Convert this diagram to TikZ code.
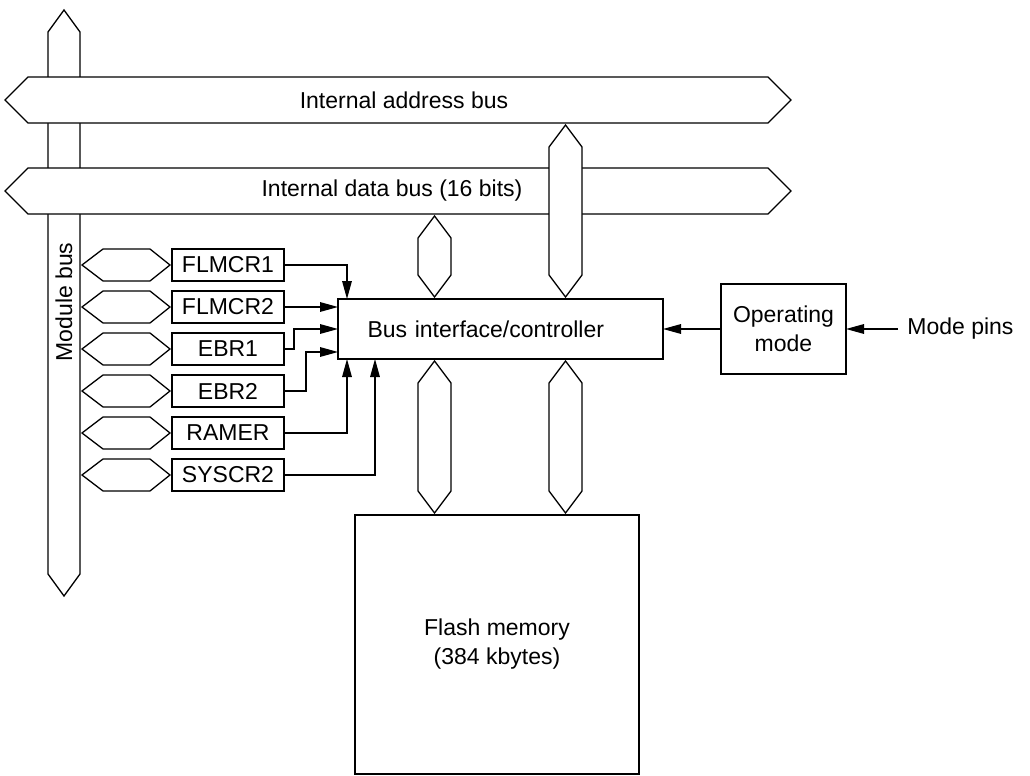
\documentclass[tikz,border=0pt]{standalone}
\usepackage{fontspec}
\setmainfont{Liberation Sans}
\usepackage{tikz}
\usetikzlibrary{arrows.meta,positioning,calc}
% bus outlines, coordinates in pixels of the original figure
\newcommand{\vbus}[4]{\draw[bus] (#1,#3+22) -- ({(#1+#2)/2},#3) -- (#2,#3+22) -- (#2,#4-22) -- ({(#1+#2)/2},#4) -- (#1,#4-22) -- cycle;}
\newcommand{\hbus}[4]{\draw[bus] (#1,{(#3+#4)/2}) -- (#1+23,#3) -- (#2-23,#3) -- (#2,{(#3+#4)/2}) -- (#2-23,#4) -- (#1+23,#4) -- cycle;}
\newcommand{\regbus}[1]{\draw[bus] (82,#1) -- ++(21,-16) -- ++(47,0) -- ++(20,16) -- ++(-20,16) -- ++(-47,0) -- cycle;}

\begin{document}
\begin{tikzpicture}[
  x=0.5pt, y=-0.5pt,
  font=\fontsize{11.5}{14.5}\selectfont,
  bus/.style={draw, fill=white, line width=0.65pt, line join=miter},
  regbox/.style={rectangle, draw, line width=0.65pt, fill=white, minimum width=56pt, minimum height=16pt, inner sep=0pt, outer sep=0pt},
  ctlbox/.style={rectangle, draw, line width=0.65pt, fill=white, inner sep=0pt, outer sep=0pt, align=center},
  arrow/.style={-{Triangle[length=9pt,width=4.8pt]}, line width=0.65pt},
]
\useasboundingbox (0,0) rectangle (1030,776);

% buses
\vbus{48}{80}{10}{596}
\node[rotate=90] (mbus) at (64,302) {Module bus};
\hbus{5}{791}{77}{123}
\node (abus) at (404,100) {Internal address bus};
\hbus{5}{791}{168}{214}
\node (dbus) at (392,191) {Internal data bus (16 bits)};
\vbus{549}{582}{125}{297}
\vbus{418}{451}{216}{297}
\vbus{418}{451}{361}{513}
\vbus{549}{582}{361}{513}

% registers
\regbus{265}
\regbus{307}
\regbus{349}
\regbus{391}
\regbus{433}
\regbus{475}
\node[regbox] (flmcr1) at (228,265) {FLMCR1};
\node[regbox] (flmcr2) at (228,307) {FLMCR2};
\node[regbox] (ebr1) at (228,349) {EBR1};
\node[regbox] (ebr2) at (228,391) {EBR2};
\node[regbox] (ramer) at (228,433) {RAMER};
\node[regbox] (syscr2) at (228,475) {SYSCR2};

% blocks
\node[ctlbox, minimum width=162.5pt, minimum height=30pt, text width=133pt, align=left] (bic) at (500.5,329) {Bus interface/controller};
\node[ctlbox, minimum width=62.5pt, minimum height=45pt] (opmode) at (783.5,329) {Operating\\mode};
\node[ctlbox, minimum width=142pt, minimum height=129.5pt] (flash) at (497,644.5) {Flash memory\\(384 kbytes)};
\node[anchor=west, inner sep=4.5pt] (pins) at (898,329) {Mode pins};

% connections
\draw[arrow] (flmcr1.east) -| ([xshift=4.5pt]bic.north west);
\draw[arrow] (flmcr2.east) -- (flmcr2.east -| bic.west);
\draw[arrow] (ebr1.east) -- ++(10,0) |- (bic.west);
\draw[arrow] (ebr2.east) -- ++(22,0) |- ([yshift=-11.5pt]bic.west);
\draw[arrow] (ramer.east) -| ([xshift=4.5pt]bic.south west);
\draw[arrow] (syscr2.east) -| ([xshift=18.5pt]bic.south west);
\draw[arrow] (opmode) -- (bic);
\draw[arrow] (pins.west) -- (opmode.east);

\end{tikzpicture}
\end{document}
